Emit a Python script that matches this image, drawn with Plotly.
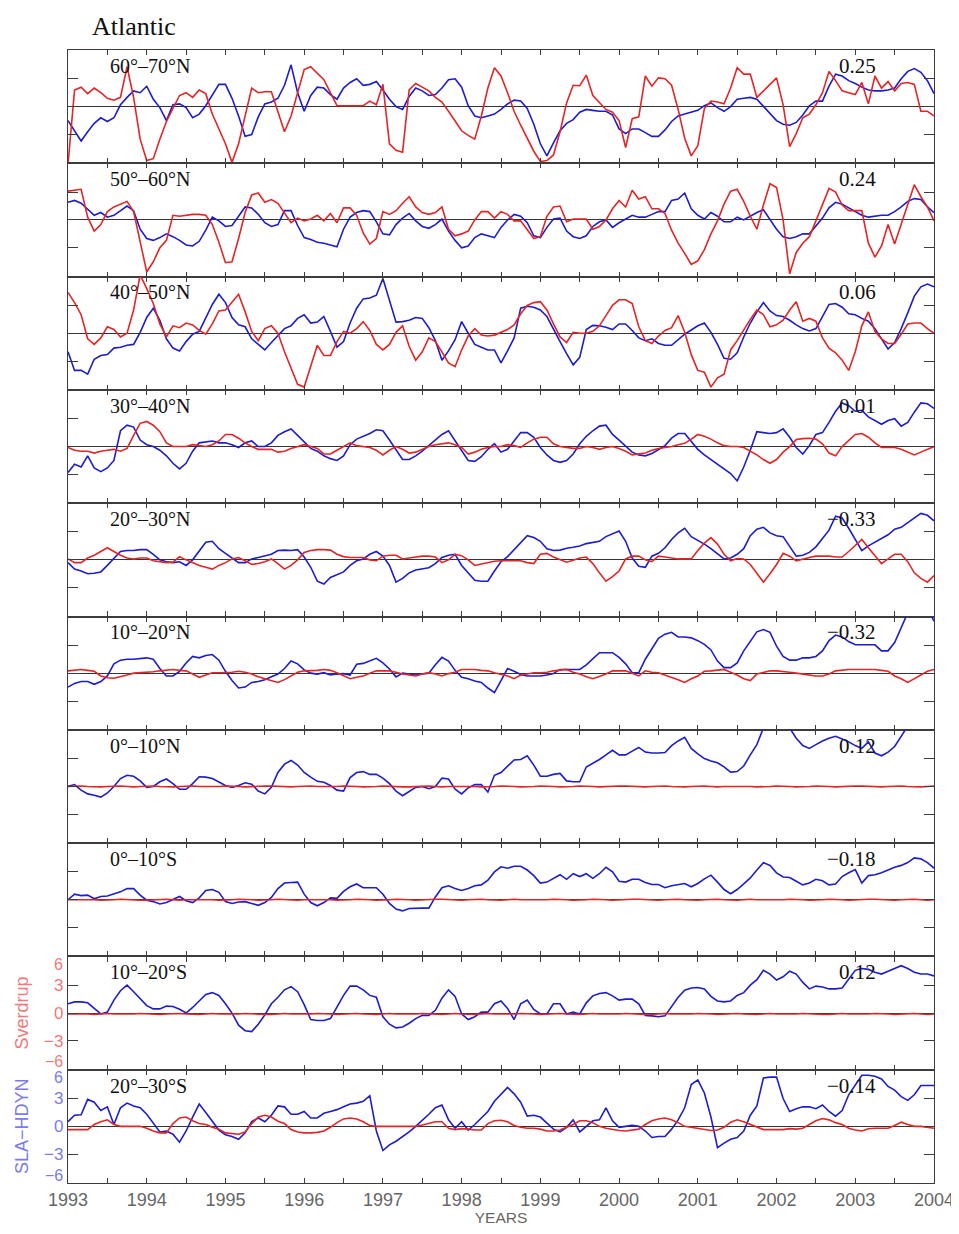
import numpy as np
import plotly.graph_objects as go
from plotly.subplots import make_subplots

# ---------------- data (monthly, Jan 1993 .. Jan 2004) ----------------
START_YEAR = 1993
N_MONTHS = 133
years = START_YEAR + np.arange(N_MONTHS) / 12.0

bands = ["60°–70°N", "50°–60°N", "40°–50°N", "30°–40°N", "20°–30°N",
         "10°–20°N", "0°–10°N", "0°–10°S", "10°–20°S", "20°–30°S"]
correlations = ["0.25", "0.24", "0.06", "0.01", "−0.33",
                "−0.32", "0.12", "−0.18", "0.12", "−0.14"]

# SLA-HDYN (blue)
sla_60_70N = [
    -1.5, -2.6, -3.7, -2.7, -1.8, -1.2, -1.6, -1.2, 0.2, 1.0, 1.7, 1.5,
    2.2, 0.8, -0.1, -1.5, 0.2, 0.3, -0.1, -1.2, -0.8, 0.1, 1.2, 2.4,
    2.4, 0.9, -1.0, -3.2, -3.0, -1.1, 0.3, 0.5, 0.9, 2.3, 4.5, 1.5,
    -0.5, 1.2, 2.1, 2.0, 1.3, 0.8, 2.0, 2.6, 3.0, 2.3, 2.4, 2.7,
    1.8, 0.8, 0.0, -0.3, 1.1, 2.0, 1.7, 1.2, 1.3, 2.0, 2.9, 3.0,
    2.1, 0.1, -1.0, -1.2, -1.0, -0.8, -0.3, 0.3, 0.7, 0.6, -0.2, -1.9,
    -4.0, -5.3, -3.9, -2.6, -1.8, -1.4, -0.6, -0.3, -0.4, -0.5, -0.5, -0.9,
    -2.4, -2.9, -2.4, -2.4, -2.8, -3.2, -3.2, -2.5, -1.6, -1.0, -0.8, -0.6,
    -0.4, 0.1, 0.4, -0.1, -0.5, 0.0, 0.8, 0.9, 1.0, 0.8, 0.0, -0.8,
    -1.5, -1.9, -2.0, -1.7, -0.9, 0.1, 0.6, 0.6, 2.2, 3.5, 3.3, 2.8,
    2.5, 2.1, 1.8, 1.7, 1.7, 1.8, 2.0, 3.0, 3.8, 4.1, 3.7, 2.8,
    1.4]
sla_50_60N = [
    1.9, 2.1, 1.8, 1.2, 0.5, 0.8, 0.3, 0.5, 1.0, 1.5, 1.0, -1.0,
    -2.0, -2.2, -1.9, -1.5, -1.8, -2.2, -2.7, -2.8, -2.3, -1.1, 0.3, -0.1,
    -0.7, -0.6, 0.4, 1.4, 1.3, 0.6, -0.3, -0.7, -0.5, 1.0, 1.0, -0.6,
    -1.9, -2.1, -2.4, -2.5, -2.7, -2.9, -1.0, 0.3, 0.8, 1.0, 0.9, -0.2,
    -1.5, -1.6, -0.5, 0.2, 0.7, -0.1, -0.7, -0.9, -0.5, 0.1, -1.2, -2.2,
    -3.0, -2.8, -1.9, -1.5, -1.7, -1.9, -0.8, 0.0, 0.6, 0.4, -0.3, -1.7,
    -1.9, -0.8, 0.1, 0.2, -1.2, -1.8, -2.0, -1.7, -0.7, -0.2, 0.0, -0.8,
    -0.3, 0.1, 0.5, 0.3, 0.3, 0.6, 0.9, 0.9, 2.1, 2.25, 2.9, 1.2,
    0.5, 0.1, 0.8, 0.4, -0.2, -0.2, 0.3, 0.0, 0.4, 0.8, 1.1, 0.0,
    -1.0, -1.8, -2.0, -1.8, -1.5, -1.5, -0.6, 0.2, 1.3, 1.9, 1.7, 1.3,
    0.9, 0.5, 0.3, 0.4, 0.5, 0.5, 0.9, 1.4, 2.0, 2.3, 2.2, 1.4,
    0.8]
sla_40_50N = [
    -2.0, -4.0, -4.0, -4.4, -2.8, -2.4, -2.3, -1.6, -1.5, -1.3, -1.2, 0.1,
    1.7, 2.7, 1.4, -0.6, -1.6, -1.9, -0.9, -0.1, 0.2, 1.6, 3.1, 4.2,
    3.3, 1.7, 0.9, 0.7, -0.6, -1.2, -1.8, -1.0, -0.2, 0.5, 0.8, 1.6,
    2.0, 1.1, 1.2, 1.8, 0.2, -1.5, -0.9, 1.1, 2.7, 3.7, 3.8, 4.1,
    5.9, 3.5, 1.2, 1.25, 1.4, 1.7, 1.6, 0.6, -0.8, -2.9, -1.9, -0.7,
    1.25, 0.0, -1.2, -1.5, -1.8, -1.8, -3.2, -1.9, -0.5, 2.7, 2.9, 2.8,
    2.5, 1.8, 0.4, -0.9, -2.2, -3.4, -2.6, 0.4, 0.85, 0.8, 0.65, 0.4,
    1.0, 1.0, 0.3, -0.5, -0.8, -0.6, -1.1, -1.3, -1.3, -0.7, -0.1, 0.35,
    0.8, 1.1, 0.1, -1.2, -2.7, -2.8, -2.1, -0.4, 1.1, 2.3, 3.3, 2.4,
    1.9, 1.8, 1.4, 0.9, 0.5, 0.25, 0.5, 1.8, 3.1, 3.2, 2.8, 2.1,
    2.0, 1.6, 1.3, 0.5, -0.6, -1.7, -1.0, 0.5, 2.2, 4.0, 5.0, 5.3,
    5.0]
sla_30_40N = [
    -2.8, -1.9, -2.2, -1.0, -2.3, -2.7, -2.3, -1.5, 1.7, 2.3, 2.1, 0.7,
    0.2, 0.0, -0.4, -1.0, -1.8, -2.4, -1.8, -0.5, 0.4, 0.5, 0.6, 0.4,
    0.4, 0.2, -0.1, 0.4, 0.6, 0.0, 0.0, 0.4, 1.2, 1.6, 1.9, 1.2,
    0.5, -0.2, -0.5, -1.0, -1.3, -1.5, -1.0, 0.2, 0.8, 1.1, 1.4, 1.8,
    1.7, 0.7, -0.3, -1.4, -1.4, -1.0, -0.5, 0.1, 0.7, 1.3, 1.7, 0.6,
    -0.4, -1.5, -1.6, -1.1, -0.3, 0.3, -0.6, -0.3, 0.6, 1.5, 1.5, 1.0,
    -0.1, -0.9, -1.5, -1.7, -1.5, -0.8, 0.3, 1.1, 1.7, 2.2, 2.3, 1.3,
    0.7, 0.0, -0.6, -0.9, -1.0, -0.75, -0.3, 0.1, 0.9, 1.4, 1.4, 0.5,
    -0.3, -0.9, -1.4, -1.9, -2.4, -2.9, -3.7, -2.2, -0.4, 1.6, 1.5, 1.4,
    1.5, 1.9, 1.0, -0.1, -0.8, 0.1, 1.3, 1.5, 2.6, 3.8, 4.7, 4.4,
    3.8, 3.9, 3.2, 2.8, 2.4, 2.8, 3.0, 2.2, 2.6, 3.7, 4.7, 4.6,
    4.1]
sla_20_30N = [
    -0.3, -1.0, -1.2, -1.5, -1.45, -1.3, -0.6, 0.1, 0.9, 1.0, 1.0, 1.1,
    1.1, 0.6, 0.0, -0.2, -0.3, -0.2, -0.6, 0.0, 0.9, 1.9, 2.0, 1.2,
    0.7, 0.2, -0.3, -0.3, 0.1, 0.25, 0.45, 0.6, 1.0, 1.05, 1.0, 1.1,
    0.3, -0.8, -2.3, -2.6, -1.9, -1.6, -1.3, -0.6, -0.1, 0.1, 0.6, 0.9,
    0.4, -0.6, -2.4, -2.0, -1.4, -1.1, -1.0, -0.85, -0.4, 0.25, 0.5, 0.6,
    -0.6, -1.4, -2.2, -2.3, -2.3, -1.2, -0.2, 0.35, 1.1, 1.8, 2.6, 2.4,
    2.0, 1.2, 1.0, 1.05, 1.25, 1.35, 1.5, 1.75, 1.9, 2.0, 2.5, 2.8,
    3.1, 2.0, 0.2, -0.7, -0.8, 0.4, 0.7, 1.3, 2.2, 2.9, 3.4, 2.5,
    2.1, 1.7, 1.2, 0.6, 0.1, 0.2, 0.6, 1.2, 2.6, 3.3, 3.5, 2.9,
    2.6, 2.5, 1.5, 0.4, 0.5, 0.8, 1.4, 2.3, 3.2, 4.7, 4.5, 3.4,
    2.2, 1.0, 1.5, 1.9, 2.3, 2.7, 3.3, 3.5, 4.0, 4.5, 5.0, 4.8,
    4.2]
sla_10_20N = [
    -1.5, -1.1, -0.9, -0.9, -1.2, -0.9, -0.3, 1.0, 1.4, 1.5, 1.5, 1.6,
    1.65, 1.5, 0.5, -0.3, -0.3, 0.2, 1.1, 1.8, 1.65, 1.9, 2.0, 1.4,
    0.2, -0.8, -1.6, -1.5, -1.0, -0.9, -0.7, -0.4, -0.1, 0.5, 1.3, 1.0,
    0.35, 0.0, -0.1, 0.05, -0.2, -0.1, -0.05, -0.2, 0.95, 1.05, 1.3, 1.6,
    1.1, 0.45, -0.4, 0.0, -0.1, -0.2, -0.1, 0.0, 0.9, 1.7, 1.3, 0.3,
    -0.45, -0.6, -0.85, -1.0, -1.6, -2.1, -0.8, 0.5, 0.2, -0.15, -0.3, -0.3,
    -0.3, -0.2, -0.05, 0.4, 0.4, 0.4, 0.4, 0.9, 1.6, 2.2, 2.2, 2.2,
    1.7, 1.0, 0.05, 0.05, 1.5, 2.6, 3.75, 4.2, 4.4, 3.9, 3.9, 3.8,
    3.5, 3.1, 2.5, 1.3, 0.6, 0.6, 1.1, 2.4, 3.5, 4.45, 4.7, 4.4,
    2.9, 1.8, 1.4, 1.4, 1.65, 1.65, 1.8, 2.4, 3.5, 4.1, 3.9, 3.4,
    3.05, 3.05, 3.05, 3.05, 2.4, 2.4, 3.3, 5.0, 6.5, 7.5, 7.8, 7.0,
    5.6]
sla_0_10N = [
    0.0, 0.2, -0.4, -0.8, -0.95, -1.15, -0.7, 0.0, 0.85, 1.2, 1.1, 0.6,
    -0.1, 0.0, 0.5, 0.8, 0.3, -0.3, -0.3, 0.3, 1.05, 1.0, 0.85, 0.45,
    0.1, -0.1, 0.1, 0.4, 0.25, -0.5, -0.8, -0.1, 1.5, 2.4, 2.8, 2.3,
    1.5, 1.0, 0.55, 0.45, 0.1, -0.4, -0.5, 0.95, 1.5, 1.6, 1.3, 1.3,
    0.9, 0.3, -0.5, -1.0, -0.55, -0.1, 0.0, -0.25, 0.0, 0.9, 0.8, -0.3,
    -0.8, -0.15, 0.2, 0.2, -0.6, 1.2, 1.5, 2.2, 2.85, 2.9, 3.3, 2.3,
    1.1, 1.1, 1.3, 1.4, 0.6, 0.5, 0.5, 2.1, 2.5, 2.9, 3.4, 3.9,
    3.4, 3.4, 3.8, 4.2, 3.7, 3.6, 3.6, 3.65, 4.4, 4.9, 5.3, 4.1,
    3.5, 3.0, 2.75, 2.55, 2.1, 1.55, 1.6, 2.2, 3.4, 4.5, 6.3, 7.5,
    7.0, 6.3, 6.3, 5.2, 4.4, 4.1, 4.5, 4.9, 5.2, 5.4, 5.1, 4.8,
    4.4, 4.1, 4.8, 3.6, 3.3, 3.7, 4.3, 5.5, 6.5, 7.5, 8.0, 8.5,
    9.0]
sla_0_10S = [
    0.0, 0.6, 0.45, 0.5, 0.1, 0.35, 0.4, 0.6, 0.85, 1.2, 1.2, 0.5,
    -0.05, -0.2, -0.45, -0.3, 0.0, 0.35, -0.1, -0.3, 0.2, 1.0, 1.1, 0.8,
    -0.2, -0.4, -0.25, -0.2, -0.4, -0.6, -0.3, 0.25, 1.2, 1.8, 1.85, 1.9,
    0.6, -0.3, -0.65, -0.3, 0.2, 0.15, 0.9, 1.4, 1.7, 1.3, 1.3, 1.3,
    0.6, -0.4, -1.0, -1.2, -0.95, -0.9, -0.9, -0.9, 0.3, 1.3, 1.5, 1.2,
    1.0, 1.2, 1.5, 1.6, 2.1, 3.0, 3.55, 3.4, 3.6, 3.6, 3.2, 2.6,
    1.8, 1.9, 2.3, 2.7, 2.2, 2.8, 2.5, 2.8, 2.3, 2.8, 3.5, 3.0,
    2.0, 1.9, 2.2, 2.2, 1.85, 1.65, 1.65, 1.3, 1.5, 1.65, 1.75, 1.4,
    1.75, 2.25, 2.65, 1.9, 1.1, 0.65, 1.1, 1.7, 2.35, 3.2, 4.0, 3.7,
    2.9, 2.45, 2.4, 2.0, 1.6, 1.8, 2.2, 2.05, 1.6, 1.7, 2.5, 2.9,
    3.25, 1.8, 2.6, 2.7, 2.9, 3.2, 3.5, 3.7, 4.0, 4.5, 4.4, 4.0,
    3.4]
sla_10_20S = [
    1.0, 1.2, 1.2, 1.1, 0.5, -0.1, 0.1, 1.4, 2.4, 3.0, 2.3, 1.5,
    0.8, 0.45, 0.45, 0.75, 0.7, 0.4, 0.0, 0.6, 1.3, 2.0, 2.2, 1.9,
    1.0, 0.0, -1.3, -1.9, -2.0, -1.2, -0.2, 1.0, 1.7, 2.5, 2.85, 2.3,
    0.9, -0.7, -0.8, -0.8, -0.6, 0.7, 1.9, 2.9, 2.9, 2.5, 1.9, 1.7,
    -0.4, -1.2, -1.6, -1.5, -1.1, -0.6, -0.25, -0.25, 0.3, 1.6, 2.5, 1.8,
    -0.1, -0.7, -0.4, 0.1, 0.1, 1.0, 1.3, 0.5, -0.7, 1.0, 1.4, 0.4,
    -0.1, -0.1, 1.0, 1.0, -0.1, 0.1, -0.1, 1.1, 1.85, 2.1, 2.2, 1.85,
    1.4, 1.5, 1.5, 1.0, -0.25, -0.3, -0.4, -0.3, 0.65, 1.7, 2.45, 2.7,
    2.75, 2.6, 1.8, 1.3, 1.2, 1.3, 1.9, 2.2, 3.0, 3.6, 4.6, 4.2,
    3.55, 3.9, 4.5, 4.2, 3.3, 2.6, 2.9, 2.8, 2.6, 2.6, 2.7, 3.6,
    4.6, 4.8, 4.7, 4.4, 4.2, 4.5, 4.8, 5.1, 4.8, 4.4, 4.2, 4.2,
    4.0]
sla_20_30S = [
    0.5, 1.2, 1.25, 2.9, 2.6, 1.7, 2.1, 0.2, 2.0, 2.5, 2.2, 2.0,
    1.3, 0.3, -0.6, -0.5, -0.85, -1.7, -0.5, 1.0, 2.4, 1.5, 0.5, -0.4,
    -0.9, -1.1, -1.4, -0.7, 0.5, 0.9, 0.5, 1.2, 2.2, 2.1, 1.3, 1.3,
    1.6, 0.9, 0.9, 1.4, 1.6, 1.8, 2.1, 2.4, 2.5, 2.7, 3.3, -0.5,
    -2.6, -2.0, -1.6, -1.1, -0.6, 0.0, 0.6, 1.3, 2.0, 2.3, 0.7, -0.2,
    0.5, -0.4, 0.2, 0.9, 1.6, 2.7, 3.4, 4.2, 3.5, 2.6, 1.1, 1.2,
    1.0, 0.4, -0.3, -0.6, -0.1, 0.7, -0.6, 0.0, 0.6, 0.7, 2.0, 0.6,
    -0.1, 0.0, 0.1, 0.0, -0.5, -1.2, -1.1, -1.1, -0.3, 0.7, 2.0, 4.5,
    5.0, 3.6, 1.0, -2.3, -1.8, -1.4, -1.2, -0.5, 1.2, 2.2, 5.2, 5.3,
    5.3, 3.0, 1.6, 1.9, 2.1, 2.1, 1.9, 2.3, 1.6, 1.1, 1.7, 3.4,
    4.4, 5.5, 5.5, 5.4, 5.1, 4.3, 3.9, 3.2, 2.8, 3.4, 4.4, 4.4,
    4.4]

# Sverdrup transport (red)
sv_60_70N = [
    -6.2, 1.8, 2.1, 1.4, 2.0, 1.5, 0.9, 0.7, 1.0, 4.3, 1.0, -3.5,
    -5.8, -5.6, -3.5, -1.6, -0.2, 1.2, 1.5, 1.0, 1.8, 1.4, -0.8, -2.5,
    -4.0, -6.0, -4.0, -1.0, 2.0, 1.5, 1.6, 1.6, -0.5, -2.7, -1.0, 1.6,
    4.0, 4.3, 3.6, 2.9, 1.5, 0.1, 0.1, 0.1, 0.1, 0.1, 0.6, 0.2,
    2.4, -4.0, -4.7, -4.9, 1.8, 2.5, 2.1, 1.7, 1.0, 0.5, -0.5, -1.5,
    -2.6, -3.1, -3.5, -1.0, 2.0, 4.2, 3.3, 1.5, -0.5, -2.0, -3.4, -4.8,
    -5.9, -5.8, -5.2, -2.7, 0.4, 2.3, 2.25, 3.4, 1.2, 0.5, -0.3, -0.6,
    -1.5, -4.4, -1.3, -1.1, 3.3, 2.2, 3.1, 3.0, 2.3, -0.3, -3.4, -5.3,
    -4.2, -0.2, 0.6, 0.5, 0.3, 2.0, 4.2, 3.5, 3.5, 1.0, 1.7, 2.4,
    3.1, 0.2, -4.3, -2.9, -1.2, -0.8, 0.2, 1.5, 3.8, 2.8, 1.7, 1.5,
    1.3, 2.6, 0.3, 3.3, 2.0, 2.7, 1.7, 2.5, 2.6, 2.4, -0.5, -0.5,
    -1.0]
sv_50_60N = [
    3.1, 3.2, 3.3, 0.3, -1.2, -0.5, 0.9, 1.4, 1.7, 2.0, 0.9, -2.2,
    -5.6, -4.5, -3.0, -2.2, 0.5, 0.4, 0.5, 0.6, 0.6, 0.5, -0.5, -2.4,
    -4.6, -4.5, -2.0, 0.8, 2.7, 2.9, 1.9, 2.2, 1.8, 0.8, -0.3, 0.2,
    -0.1, 0.1, 0.5, -0.1, 0.7, -0.3, 1.3, 1.3, 0.5, -1.4, -2.6, -2.0,
    0.9, 0.6, 1.0, 1.8, 2.5, 1.4, 0.8, 0.6, 0.8, 1.4, -1.0, -1.7,
    -1.5, -1.2, 0.0, 0.9, 0.9, 0.2, 0.9, 0.6, -0.1, -0.1, -1.0, -2.0,
    -1.8, 0.4, 1.4, 1.5, -0.2, 0.1, 0.1, 0.1, -1.0, -0.7, 0.0, 1.2,
    2.1, 1.4, 3.2, 2.25, 2.5, 1.2, 1.2, 0.7, -1.1, -2.5, -3.6, -4.8,
    -4.4, -3.2, -1.5, -0.1, 1.7, 3.1, 3.3, 2.0, 0.4, -1.0, 1.6, 3.9,
    3.5, 0.0, -5.8, -3.5, -2.5, -1.8, -0.1, 1.7, 3.4, 3.0, 1.6, 1.0,
    1.0, 1.0, -2.5, -4.0, -2.8, -0.5, -2.6, -0.5, 1.7, 3.8, 2.5, 1.4,
    -0.1]
sv_40_50N = [
    4.4, 3.3, 2.0, -0.6, -1.2, -0.5, 0.7, 0.4, -0.4, 0.0, 2.5, 6.3,
    4.8, 3.2, 1.0, -0.4, 0.8, 0.6, 1.1, 0.9, 0.3, -0.1, 1.0, 2.4,
    2.5, 3.3, 4.2, 2.3, 0.2, -0.8, 0.5, 0.8, 0.0, -2.0, -3.7, -5.5,
    -5.8, -3.5, -1.3, -2.4, -2.4, -0.9, 0.2, 0.0, 0.5, 1.25, 0.3, -1.2,
    -1.8, -1.2, 0.1, 0.8, -1.4, -2.9, -2.0, -0.5, -0.9, -2.0, -3.2, -3.6,
    -1.8, -0.3, 0.5, -0.2, -0.3, -0.2, 0.1, 0.4, 0.9, 2.1, 3.0, 3.3,
    3.4, 2.5, 1.0, -0.4, -1.0, 0.1, 0.0, 0.0, 0.2, 0.8, 1.9, 3.0,
    3.6, 3.6, 3.2, 0.7, -0.8, -1.1, -0.3, 0.3, 0.6, 1.9, 0.1, -2.3,
    -4.0, -4.2, -5.8, -4.8, -4.4, -1.8, -0.8, 0.4, 1.5, 2.5, 2.0, 0.7,
    0.9, 1.4, 2.5, 3.4, 1.3, 1.6, 1.3, -0.5, -1.6, -2.1, -2.9, -4.0,
    -2.0, 0.8, 2.3, 0.2, -0.6, -1.1, -1.1, -0.1, 1.0, 1.1, 1.1, 0.5,
    0.0]
sv_30_40N = [
    -0.1, -0.4, -0.5, -0.5, -0.7, -0.5, -0.4, -0.3, -0.5, -0.2, 1.2, 2.5,
    2.7, 2.3, 1.6, 0.4, 0.0, 0.0, 0.0, 0.2, 0.1, 0.0, 0.2, 0.6,
    1.3, 1.3, 0.9, 0.4, 0.0, -0.3, -0.3, -0.3, -0.6, -0.5, -0.2, 0.0,
    0.2, 0.0, -0.2, -0.8, -0.8, -0.4, 0.0, 0.4, 0.1, 0.0, -0.1, -0.4,
    -0.9, -0.4, 0.0, -0.3, -0.7, -0.6, -0.3, 0.0, 0.2, 0.3, 0.4, 0.2,
    -0.1, -0.8, -0.6, -0.3, -0.1, 0.0, 0.0, 0.2, 0.1, -0.1, 0.4, 0.8,
    1.0, 1.0, 0.3, 0.0, -0.1, -0.2, -0.2, 0.0, -0.1, -0.3, -0.1, 0.0,
    -0.2, -0.5, -0.9, -0.8, -0.7, -0.4, -0.2, -0.1, 0.0, 0.2, 0.35, 0.8,
    1.3, 1.1, 0.8, 0.4, 0.1, 0.0, 0.0, -0.1, -0.5, -0.9, -1.4, -1.8,
    -1.4, -0.6, 0.0, 0.75, 0.85, 0.9, 0.8, 0.3, -0.7, -1.0, 0.0, 0.7,
    1.3, 1.4, 1.0, 0.4, -0.1, -0.1, -0.1, -0.3, -0.6, -0.9, -0.6, -0.3,
    0.0]
sv_20_30N = [
    0.1, -0.3, -0.3, 0.2, 0.5, 0.9, 1.3, 0.9, 0.5, 0.2, 0.1, 0.2,
    0.2, -0.1, -0.2, -0.3, -0.25, 0.35, 0.0, -0.3, -0.6, -0.8, -1.0, -0.6,
    -0.3, 0.1, 0.25, -0.1, -0.5, -0.4, -0.2, 0.1, -0.4, -1.0, -0.6, 0.0,
    0.8, 1.0, 1.1, 1.1, 1.05, 0.6, 0.35, 0.25, 0.25, 0.25, 0.0, -0.1,
    0.4, 0.5, 0.5, 0.1, 0.2, 0.3, 0.4, 0.4, 0.3, -0.3, 0.0, 0.6,
    0.45, 0.0, -0.6, -0.45, -0.3, -0.15, -0.1, -0.1, -0.1, -0.1, -0.3, -0.4,
    0.6, 0.7, 0.3, 0.0, -0.25, -0.05, 0.2, 0.3, -0.4, -1.4, -2.3, -1.8,
    -1.2, 0.1, 0.4, 0.4, 0.0, -0.2, 0.4, 0.3, 0.2, 0.1, 0.1, 0.1,
    1.0, 1.8, 2.4, 1.7, 0.6, -0.1, 0.15, 0.1, -0.5, -1.4, -2.4, -1.5,
    -0.5, 0.7, 0.4, -0.1, 0.1, 0.25, 0.4, 0.4, 0.4, 0.3, 0.3, 0.9,
    1.6, 2.2, 1.3, 0.5, -0.4, 0.1, 0.6, 0.6, -0.2, -1.4, -2.0, -2.4,
    -1.7]
sv_10_20N = [
    0.25, 0.35, 0.4, 0.3, 0.2, -0.3, -0.5, -0.55, -0.4, -0.2, 0.0, 0.05,
    0.05, 0.15, 0.25, 0.35, 0.4, 0.3, 0.25, -0.1, -0.45, -0.2, 0.05, 0.05,
    0.05, 0.1, 0.2, 0.1, -0.1, -0.4, -0.6, -0.8, -1.0, -0.7, -0.3, 0.1,
    0.25, 0.25, 0.3, 0.4, 0.3, 0.05, -0.3, -0.6, -0.45, -0.3, 0.0, 0.25,
    0.25, 0.25, 0.1, -0.1, -0.2, -0.3, -0.1, 0.05, -0.1, -0.3, -0.05, 0.1,
    0.4, 0.4, 0.4, 0.3, 0.25, 0.05, -0.1, -0.3, -0.6, -0.2, -0.1, 0.05,
    0.05, 0.1, 0.25, 0.3, 0.4, 0.1, -0.1, -0.4, -0.6, -0.35, -0.1, 0.25,
    0.25, 0.25, 0.0, -0.3, 0.25, 0.1, 0.05, -0.2, -0.4, -0.7, -1.0, -0.6,
    -0.3, 0.2, 0.25, 0.3, 0.4, 0.1, -0.2, -0.6, -0.8, -0.1, 0.1, 0.25,
    0.25, 0.2, 0.1, 0.0, -0.1, -0.2, -0.3, -0.3, -0.1, 0.25, 0.35, 0.4,
    0.4, 0.4, 0.4, 0.4, 0.3, 0.2, -0.3, -0.6, -1.0, -0.6, -0.2, 0.2,
    0.4]
sv_0_10N = [
    0.0, 0.05, 0.05, 0.0, -0.05, -0.05, 0.0, 0.05, 0.05, 0.0, -0.05, 0.0,
    0.05, 0.05, 0.0, -0.05, -0.05, 0.0, 0.05, 0.05, 0.0, 0.0, -0.05, 0.0,
    0.05, 0.05, 0.0, -0.05, 0.0, 0.0, 0.05, 0.05, 0.0, -0.05, -0.05, 0.0,
    0.05, 0.05, 0.0, 0.0, -0.05, 0.0, 0.05, 0.05, 0.0, -0.05, -0.05, 0.0,
    0.05, 0.0, 0.0, -0.05, -0.05, 0.0, 0.05, 0.05, 0.0, -0.05, 0.0, 0.0,
    0.05, 0.05, 0.0, -0.05, -0.05, 0.0, 0.05, 0.05, 0.0, -0.05, -0.05, 0.0,
    0.05, 0.05, 0.0, -0.05, -0.05, 0.0, 0.05, 0.05, 0.0, -0.05, 0.0, 0.0,
    0.05, 0.05, 0.0, -0.05, -0.05, 0.0, 0.05, 0.05, 0.0, -0.05, -0.05, 0.0,
    0.05, 0.05, 0.0, -0.05, 0.0, 0.0, 0.05, 0.05, 0.0, -0.05, -0.05, 0.0,
    0.05, 0.05, 0.0, -0.05, -0.05, 0.0, 0.05, 0.05, 0.0, -0.05, 0.0, 0.0,
    0.05, 0.05, 0.0, -0.05, -0.05, 0.0, 0.05, 0.05, 0.0, -0.05, -0.05, 0.0,
    0.05]
sv_0_10S = [
    0.0, 0.0, 0.05, 0.05, 0.0, -0.05, -0.05, 0.0, 0.05, 0.0, 0.0, -0.05,
    -0.05, 0.0, 0.05, 0.05, 0.0, -0.05, 0.0, 0.0, 0.05, 0.05, 0.0, -0.05,
    -0.05, 0.0, 0.05, 0.05, 0.0, -0.05, -0.05, 0.0, 0.05, 0.0, 0.0, -0.05,
    0.0, 0.0, 0.05, 0.05, 0.0, -0.05, -0.05, 0.0, 0.05, 0.05, 0.0, -0.05,
    -0.05, 0.0, 0.05, 0.05, 0.0, -0.05, 0.0, 0.0, 0.05, 0.05, 0.0, -0.05,
    -0.05, 0.0, 0.05, 0.05, 0.0, -0.05, -0.05, 0.0, 0.05, 0.0, 0.0, -0.05,
    -0.05, 0.0, 0.05, 0.05, 0.0, -0.05, -0.05, 0.0, 0.05, 0.05, 0.0, -0.05,
    0.0, 0.0, 0.05, 0.05, 0.0, -0.05, -0.05, 0.0, 0.05, 0.05, 0.0, -0.05,
    -0.05, 0.0, 0.05, 0.05, 0.0, -0.05, -0.05, 0.0, 0.05, 0.0, 0.0, -0.05,
    -0.05, 0.0, 0.05, 0.05, 0.0, -0.05, -0.05, 0.0, 0.05, 0.05, 0.0, -0.05,
    0.0, 0.0, 0.05, 0.05, 0.0, -0.05, -0.05, 0.0, 0.05, 0.05, 0.0, -0.05,
    0.0]
sv_10_20S = [
    -0.1, -0.1, -0.05, -0.1, -0.15, -0.1, -0.05, -0.1, -0.1, -0.15, -0.1, -0.05,
    -0.1, -0.1, -0.15, -0.1, -0.05, -0.05, -0.1, -0.15, -0.15, -0.1, -0.05, -0.1,
    -0.1, -0.15, -0.1, -0.05, -0.1, -0.1, -0.15, -0.15, -0.1, -0.05, -0.1, -0.1,
    -0.15, -0.1, -0.05, -0.05, -0.1, -0.15, -0.1, -0.1, -0.05, -0.1, -0.15, -0.15,
    -0.1, -0.05, -0.1, -0.1, -0.15, -0.1, -0.05, -0.1, -0.1, -0.15, -0.1, -0.05,
    -0.1, -0.15, -0.15, -0.1, -0.05, -0.1, -0.1, -0.15, -0.1, -0.05, -0.05, -0.1,
    -0.15, -0.1, -0.1, -0.05, -0.1, -0.15, -0.15, -0.1, -0.05, -0.1, -0.1, -0.15,
    -0.1, -0.05, -0.1, -0.1, -0.15, -0.15, -0.1, -0.05, -0.1, -0.1, -0.15, -0.1,
    -0.05, -0.05, -0.1, -0.15, -0.1, -0.1, -0.05, -0.1, -0.15, -0.15, -0.1, -0.05,
    -0.1, -0.1, -0.15, -0.1, -0.05, -0.1, -0.1, -0.15, -0.15, -0.1, -0.05, -0.1,
    -0.1, -0.15, -0.1, -0.05, -0.05, -0.1, -0.15, -0.1, -0.1, -0.05, -0.1, -0.15,
    -0.1]
sv_20_30S = [
    -0.35, -0.35, -0.35, -0.35, 0.2, 0.5, 0.7, 0.2, 0.0, 0.0, 0.0, 0.0,
    -0.2, -0.5, -0.7, -0.7, 0.3, 0.9, 1.0, 0.6, 0.3, 0.2, -0.1, -0.3,
    -0.7, -0.8, -0.85, -0.6, 0.3, 1.0, 1.2, 1.0, 0.55, 0.3, -0.35, -0.6,
    -0.7, -0.7, -0.65, -0.5, -0.1, 0.4, 0.8, 0.9, 0.8, 0.5, 0.1, 0.0,
    0.0, 0.0, 0.0, 0.0, 0.0, 0.0, 0.15, 0.35, 0.5, 0.5, -0.2, -0.35,
    -0.25, -0.3, -0.4, -0.4, 0.3, 0.6, 0.65, 0.5, 0.1, -0.1, -0.2, -0.2,
    -0.3, -0.5, -0.5, -0.4, -0.1, 0.2, 0.6, 0.6, 0.4, 0.0, -0.2, -0.35,
    -0.45, -0.5, -0.4, -0.3, 0.2, 0.6, 0.8, 0.9, 0.7, 0.4, 0.0, -0.1,
    -0.25, -0.35, -0.45, -0.4, -0.1, 0.45, 0.7, 0.5, 0.2, -0.1, -0.35, -0.35,
    -0.35, -0.35, -0.25, -0.3, -0.2, 0.2, 0.6, 0.85, 0.7, 0.4, 0.2, -0.2,
    -0.4, -0.5, -0.25, -0.2, -0.2, -0.2, 0.1, 0.45, 0.2, 0.0, 0.0, -0.1,
    -0.2]

sla_series = [sla_60_70N, sla_50_60N, sla_40_50N, sla_30_40N, sla_20_30N,
              sla_10_20N, sla_0_10N, sla_0_10S, sla_10_20S, sla_20_30S]
sv_series = [sv_60_70N, sv_50_60N, sv_40_50N, sv_30_40N, sv_20_30N,
             sv_10_20N, sv_0_10N, sv_0_10S, sv_10_20S, sv_20_30S]
for s in sla_series + sv_series:
    assert len(s) == N_MONTHS, len(s)

y_ticks = [-3, 0, 3]
x_ticks = list(np.arange(1993, 2004.01, 0.5))
x_ticktext = [str(int(v)) if float(v).is_integer() else "" for v in x_ticks]

# ---------------- styling ----------------
BLUE = "#1c1cd2"
RED = "#e62424"
FRAME = "#3c3c3c"
SANS = "Liberation Sans"
SERIF = "Liberation Serif"
YRANGE = [-6.1, 6.1]
NROW = len(bands)

# the page body adds an 8 px offset; the figure is sized to fit inside it
FIG_W, FIG_H = 951, 1218
OFF = 8

fig = make_subplots(rows=NROW, cols=1, shared_xaxes=True, vertical_spacing=0)

for k in range(NROW):
    r = k + 1
    fig.add_trace(go.Scatter(x=years, y=sla_series[k], mode="lines",
                             line=dict(color=BLUE, width=1.6),
                             showlegend=False, hoverinfo="skip"), row=r, col=1)
    fig.add_trace(go.Scatter(x=years, y=sv_series[k], mode="lines",
                             line=dict(color=RED, width=1.6),
                             showlegend=False, hoverinfo="skip"), row=r, col=1)
    fig.update_xaxes(range=[1993, 2004], tickvals=x_ticks, ticktext=x_ticktext,
                     ticks="inside", ticklen=5, tickwidth=1, tickcolor=FRAME,
                     showline=True, linecolor=FRAME, linewidth=1.2, mirror="ticks",
                     showgrid=False, zeroline=False,
                     showticklabels=(r == NROW), row=r, col=1)
    fig.update_yaxes(range=YRANGE, tickvals=y_ticks,
                     ticks="inside", ticklen=10, tickwidth=1, tickcolor=FRAME,
                     showline=True, linecolor=FRAME, linewidth=1.2, mirror="ticks",
                     showgrid=False, zeroline=True, zerolinecolor="#333333",
                     zerolinewidth=1.4, showticklabels=False, row=r, col=1)

    yref = "y domain" if r == 1 else f"y{r} domain"
    fig.add_annotation(text=bands[k], xref="paper", yref=yref, x=0.046, y=0.86,
                       xanchor="left", yanchor="middle", showarrow=False,
                       font=dict(family=SERIF, size=20, color="#111111"))
    fig.add_annotation(text=correlations[k], xref="paper", yref=yref, x=0.9355, y=0.86,
                       xanchor="right", yanchor="middle", showarrow=False,
                       font=dict(family=SERIF, size=21, color="#111111"))

# axis labels on the two bottom panels
LRED = "#f07a7a"
LBLUE = "#7a7af0"
for r, col, title in [(NROW - 1, LRED, "Sverdrup"), (NROW, LBLUE, "SLA−HDYN")]:
    fig.update_yaxes(showticklabels=True, tickfont=dict(family=SANS, size=17, color=col),
                     title=dict(text=title, font=dict(family=SANS, size=18, color=col),
                                standoff=10),
                     row=r, col=1)
    yname = f"y{r}"
    for v, lab, shift in [(6, "6", -7), (-6, "−6", 7)]:
        fig.add_annotation(text=lab, xref="paper", yref=yname, x=0, y=v,
                           xanchor="right", yanchor="middle", xshift=-3, yshift=shift,
                           showarrow=False,
                           font=dict(family=SANS, size=16, color=col))

fig.update_xaxes(tickfont=dict(family=SANS, size=18, color="#666666"),
                 title=dict(text="YEARS", font=dict(family=SANS, size=15.5, color="#666666"),
                            standoff=8),
                 row=NROW, col=1)

# title as an annotation just above the first panel (kept fully inside the page)
PLOT_H = 1183 - 50
fig.add_annotation(text="Atlantic", xref="paper", yref="paper",
                   x=(90 - 68) / 866, y=1 + (50 - 26) / PLOT_H,
                   xanchor="left", yanchor="middle", showarrow=False,
                   font=dict(family=SERIF, size=26, color="#111111"))

fig.update_layout(
    width=FIG_W, height=FIG_H,
    margin=dict(l=68 - OFF, r=OFF + FIG_W - 934, t=50 - OFF, b=OFF + FIG_H - 1183,
                autoexpand=False),
    paper_bgcolor="white", plot_bgcolor="white",
    showlegend=False,
)

fig.write_html("out.html")
